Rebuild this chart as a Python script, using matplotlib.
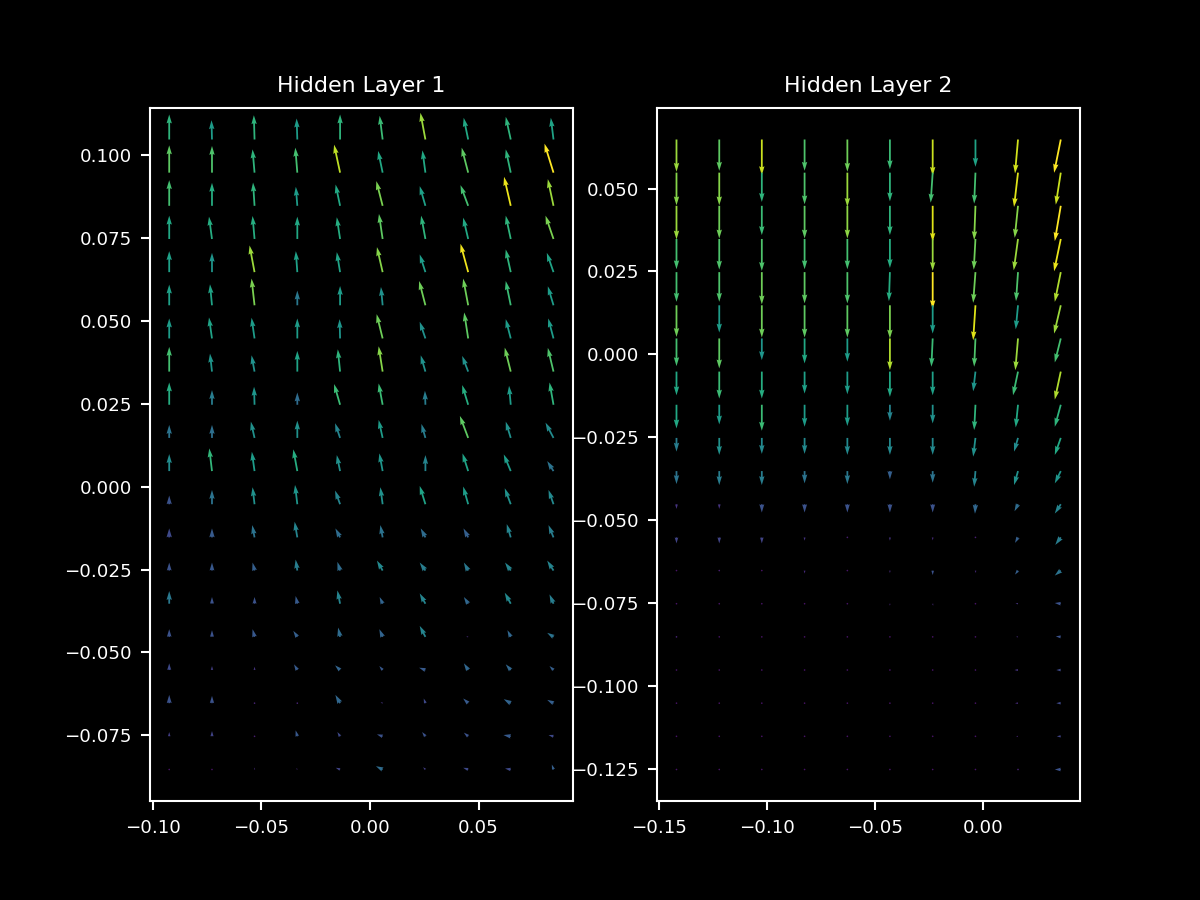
import numpy as np
import matplotlib
matplotlib.use("Agg")
import matplotlib.pyplot as plt

# ---- grid coordinates ----
x1 = [-0.0925, -0.0728, -0.0532, -0.0335, -0.0138, 0.0058, 0.0255, 0.0452, 0.0648, 0.0845]
y1 = [0.1047, 0.0947, 0.0847, 0.0747, 0.0647, 0.0547, 0.0447, 0.0347, 0.0247, 0.0147,
      0.0047, -0.0053, -0.0153, -0.0253, -0.0353, -0.0453, -0.0553, -0.0653, -0.0753, -0.0853]
x2 = [-0.1419, -0.1221, -0.1024, -0.0826, -0.0628, -0.0431, -0.0233, -0.0035, 0.0162, 0.0360]
y2 = [0.0648, 0.0548, 0.0448, 0.0348, 0.0248, 0.0148, 0.0048, -0.0052, -0.0152, -0.0252,
      -0.0352, -0.0452, -0.0552, -0.0652, -0.0752, -0.0852, -0.0952, -0.1052, -0.1152, -0.1252]

# ---- Hidden Layer 1 vector components (rows top -> bottom) ----
u1 = [
    [0, -0.5, -0.7, -0.7, 0, -3, -5, -4.5, -5, -2.7],
    [0, 0, -2, -2, -6, -4.5, -3, -6.5, -5, -9],
    [0, 0, -1.5, -1.5, -4.5, -6.3, -5.7, -7.7, -6.7, -5.7],
    [0, -3, -2, 0, -3.3, -3.7, -4.3, -5, -5, -8],
    [0, 0, -5, -1.5, -3.3, -5.7, -5.7, -7.7, -5, -6.7],
    [0, -2, -3, 0, 0, -1.7, -6.3, -5, -5, -5.7],
    [0, -3, -3, 0, -0.5, -6, -5.7, -4, -5, -5.3],
    [0, -2, -3, 0, -2.3, -4, -4.7, -6, -6, -5.7],
    [0, 0, -0.5, 0, -6, -4, -0.5, -6, -1.7, -4],
    [0, 0, -3.7, 0, -5, -4, -4, -8.3, -5, -8],
    [0, -2.7, -2.7, -4, -3.3, -3.3, 0, -5.7, -7, -6.3],
    [0, 0, -2, -2.3, -5, -2.3, -5.7, -5, -6, -5],
    [0, 0, -2.3, -2.7, -4.7, -2.3, -4.7, -4.7, -4, -5],
    [0, 0, -2, -1.7, -2.7, -5.7, -5.7, -4.3, -5.7, -6.3],
    [0, 0, 0, -1.7, -2.7, -3, -5.7, -4.3, -6, -4],
    [0, 0, -2, -4, -2, -3.3, -5.7, -2, -3.3, -6.3],
    [0, 0, 0, -3.3, -5, -3.3, -6.3, -4.3, -5, -4],
    [0, 0, -1, -1, -4.7, -2, -1.7, -5, -7, -6.3],
    [0, 0, -0.3, -1.7, -2.7, -5.7, -3.3, -4.3, -7.3, -5],
    [0, 0, 0, -1, -4.3, -6.7, -2.3, -5, -5.7, -1.7],
]
v1 = [
    [25, 19.3, 24.3, 21, 25, 23.7, 26.7, 21.7, 22.7, 21.7],
    [27.3, 26.7, 23.3, 25, 28, 21.7, 22.3, 25, 23.3, 29],
    [25.7, 23, 23.3, 19, 21.3, 24.7, 19.7, 20.7, 29, 26.7],
    [23.3, 22.3, 23, 22.3, 21.7, 25, 23.3, 21.3, 23.3, 23.3],
    [21, 19.3, 26.7, 21, 20, 25, 17.7, 28.3, 22.7, 19.3],
    [20.7, 21, 26.7, 14.7, 19.3, 18.3, 24.3, 26.7, 24.3, 19],
    [20, 21, 20.7, 20, 19.3, 24.3, 16.7, 26, 19.3, 20],
    [24.7, 18, 16.3, 20.7, 22.3, 25.3, 16.3, 15.7, 24, 23.7],
    [22.3, 14.7, 18, 12.3, 20.7, 21.3, 14, 19.7, 19, 22.3],
    [13, 13, 16.3, 17.3, 14.7, 18, 14, 22, 16.3, 15.3],
    [17, 22.7, 19.3, 21.7, 16, 17.7, 16, 17.7, 16.7, 10],
    [8.7, 14.3, 17, 19.3, 13.7, 17, 18.3, 17.7, 16, 14.3],
    [9, 9, 12.3, 15.7, 9, 12.3, 9, 9, 13.3, 12.3],
    [8, 8, 8, 11, 8.7, 10, 8, 8, 8, 10],
    [12.7, 6.7, 6.7, 7.7, 13.3, 6.7, 10.3, 6.7, 11, 9.3],
    [7.7, 6.7, 7.7, 6, 9.3, 7.7, 11, 0.3, 6.7, 4],
    [6.7, 4, 3.3, 5.7, 4.7, 4, 2.3, 6.7, 5.7, 4],
    [8.3, 7.3, 1, 1, 8.3, 1, 4.7, 4.7, 4, 3.3],
    [4.3, 5.3, 0.3, 6, 4.3, 2, 4.3, 3.7, 1.3, 1.3],
    [0.3, 0.3, 2, 1.5, 1.7, 3.3, 2.3, 1.7, 1, 5],
]
# colour value of each arrow (0..1 on viridis)
c1 = [
    [0.65, 0.55, 0.65, 0.55, 0.65, 0.68, 0.85, 0.60, 0.65, 0.58],
    [0.75, 0.72, 0.65, 0.70, 0.90, 0.60, 0.60, 0.75, 0.65, 1.00],
    [0.70, 0.62, 0.65, 0.55, 0.60, 0.80, 0.57, 0.70, 0.97, 0.85],
    [0.60, 0.62, 0.62, 0.60, 0.62, 0.75, 0.65, 0.60, 0.65, 0.80],
    [0.57, 0.52, 0.85, 0.57, 0.58, 0.82, 0.55, 0.98, 0.65, 0.58],
    [0.57, 0.58, 0.80, 0.40, 0.55, 0.50, 0.78, 0.78, 0.68, 0.55],
    [0.55, 0.58, 0.55, 0.55, 0.52, 0.78, 0.50, 0.75, 0.55, 0.55],
    [0.70, 0.52, 0.50, 0.58, 0.65, 0.82, 0.50, 0.50, 0.78, 0.72],
    [0.62, 0.42, 0.52, 0.35, 0.68, 0.68, 0.42, 0.62, 0.55, 0.65],
    [0.38, 0.36, 0.50, 0.50, 0.45, 0.55, 0.42, 0.75, 0.50, 0.48],
    [0.48, 0.66, 0.55, 0.62, 0.50, 0.52, 0.45, 0.58, 0.55, 0.38],
    [0.25, 0.38, 0.50, 0.52, 0.45, 0.50, 0.58, 0.55, 0.50, 0.47],
    [0.22, 0.28, 0.38, 0.45, 0.35, 0.38, 0.35, 0.30, 0.45, 0.42],
    [0.25, 0.27, 0.30, 0.42, 0.35, 0.47, 0.42, 0.40, 0.45, 0.45],
    [0.40, 0.25, 0.25, 0.28, 0.45, 0.32, 0.45, 0.33, 0.47, 0.42],
    [0.25, 0.25, 0.27, 0.30, 0.35, 0.32, 0.45, 0.12, 0.33, 0.38],
    [0.22, 0.18, 0.15, 0.28, 0.32, 0.27, 0.28, 0.33, 0.33, 0.30],
    [0.25, 0.25, 0.10, 0.10, 0.33, 0.15, 0.22, 0.28, 0.32, 0.30],
    [0.18, 0.20, 0.08, 0.27, 0.22, 0.25, 0.25, 0.25, 0.28, 0.22],
    [0.05, 0.05, 0.12, 0.12, 0.20, 0.35, 0.18, 0.22, 0.22, 0.30],
]

# ---- Hidden Layer 2 vector components (rows top -> bottom) ----
u2 = [
    [0, 0, 0, 0, 0, 0, 0, 0, -3, -6.7],
    [0, 0, 0, 0, 0, 0, -2, -1.3, -4, -5],
    [0, 0, 0, 0, 0, 0, 0, -1.3, -3.3, -6],
    [0, 0, 0, 0, 0, 0, 0, -1.7, -4.3, -6.7],
    [0, 0, 0, 0, 0, -1, 0, -2.3, -2, -6],
    [0, 0, 0, 0, 0, 0, 0, -2.3, -2.3, -6.7],
    [0, 0, 0, 0, 0, 0, -1.3, -1.3, -2.7, -6],
    [0, 0, 0, 0, 0, 0, 0, -2.3, -5, -6],
    [0, 0, 0, 0, 0, 0, 0, -1.3, -2.3, -6],
    [0, 0, 0, 0, 0, 0, 0, -2.3, -4, -6],
    [0, 0, 0, 0, 0, 0, 0, -1.3, -4, -6],
    [0, 0, 0, 0, 0, 0, 0, -0.5, -3.5, -6],
    [0, 0, 0, 0, 0, 0, 0, 0, -3, -5.5],
    [0, 0, 0, 0, 0, 0, 0, 0.5, -3, -6],
    [0, 0, 0, 0, 0, 0, 0.5, 0, -2.5, -6],
    [0, 0, 0, 0, 0, 0, 0, 0, -2, -5],
    [0, 0, 0, 0, 0, 0, 0, -0.5, -3.5, -4.5],
    [0, 0, 0, 0, 0, 0, 0, 0, -3, -4.5],
    [0, 0, 0, 0, 0, 0, 0, 0, -2, -4],
    [0, 0, 0, 0, 0, 0, 0, 0, -1.5, -6],
]
v2 = [
    [-32.3, -31.3, -35.7, -31.3, -32.3, -29.7, -36.3, -27.3, -34, -33.3],
    [-32.7, -32.7, -29.3, -31.7, -34.3, -28.7, -30, -31, -34.3, -32],
    [-33.7, -32.7, -29.3, -32.7, -32.7, -29.3, -36, -34.3, -32, -35.3],
    [-30.3, -30.7, -32, -30.3, -30.3, -29, -32, -30.7, -31.3, -32.3],
    [-29.7, -29.7, -32.3, -31.3, -31.3, -29, -37, -30.7, -29, -29.7],
    [-31.7, -27.3, -32.3, -32.3, -32.3, -33.3, -28.3, -35, -24, -28.3],
    [-27.7, -30, -21.7, -25, -23.3, -31.7, -28.3, -28.3, -31.7, -24],
    [-23.7, -27, -27, -22, -22.7, -25.3, -23.7, -19.7, -23.7, -28],
    [-23.7, -19.7, -26, -22, -21.3, -16, -18.7, -25.3, -22.7, -22],
    [-13.7, -17, -16, -16, -17, -17, -17, -18.7, -13.7, -17],
    [-13, -14, -14, -12.3, -13, -8.3, -11.7, -15.7, -14, -12.3],
    [-4.7, -4.7, -8.3, -8.3, -8.3, -8.3, -8.3, -9.5, -7, -9.3],
    [-6, -6, -6, -3.3, -0.5, -3.3, -3, -0.5, -5.5, -7.5],
    [-0.5, -1, -0.5, -3, 0.5, -2.5, -4.5, -2.5, -4, -5],
    [-0.3, -0.3, -0.3, -0.3, -0.3, -2, -2, -0.3, 0.3, 0.7],
    [-1.5, -0.3, -0.5, -0.3, -0.3, -0.3, -0.3, -0.3, 0, 0.5],
    [-0.3, -0.3, -0.3, -0.3, -0.3, -0.3, -0.3, 0, 0, 0],
    [-0.3, -0.3, -0.3, -0.3, -0.3, -0.3, -0.3, -0.3, 0, 0],
    [-0.3, -0.3, -0.3, -0.3, -0.3, -0.3, -0.3, -0.3, 0, 0],
    [-0.3, -0.3, -0.3, -0.3, -0.3, -0.3, -0.3, -0.3, 0, 0],
]
c2 = [
    [0.85, 0.75, 0.92, 0.72, 0.78, 0.68, 0.92, 0.58, 0.93, 1.00],
    [0.82, 0.82, 0.65, 0.72, 0.85, 0.65, 0.70, 0.70, 0.95, 0.92],
    [0.85, 0.78, 0.68, 0.75, 0.83, 0.65, 0.95, 0.82, 0.82, 1.00],
    [0.70, 0.72, 0.72, 0.70, 0.70, 0.62, 0.85, 0.78, 0.85, 0.97],
    [0.70, 0.72, 0.78, 0.75, 0.72, 0.62, 1.00, 0.78, 0.72, 0.88],
    [0.78, 0.55, 0.78, 0.75, 0.75, 0.80, 0.55, 0.95, 0.55, 0.85],
    [0.70, 0.75, 0.52, 0.60, 0.55, 0.88, 0.68, 0.72, 0.85, 0.70],
    [0.60, 0.68, 0.62, 0.57, 0.55, 0.60, 0.57, 0.52, 0.68, 0.88],
    [0.60, 0.55, 0.68, 0.55, 0.55, 0.45, 0.50, 0.65, 0.60, 0.65],
    [0.42, 0.50, 0.47, 0.47, 0.47, 0.47, 0.47, 0.50, 0.48, 0.60],
    [0.38, 0.42, 0.42, 0.38, 0.40, 0.30, 0.38, 0.45, 0.50, 0.52],
    [0.15, 0.15, 0.25, 0.25, 0.25, 0.25, 0.25, 0.33, 0.35, 0.45],
    [0.20, 0.20, 0.20, 0.15, 0.08, 0.15, 0.12, 0.08, 0.30, 0.42],
    [0.05, 0.08, 0.05, 0.12, 0.05, 0.12, 0.25, 0.12, 0.30, 0.38],
    [0.05, 0.05, 0.05, 0.05, 0.05, 0.10, 0.12, 0.05, 0.15, 0.25],
    [0.10, 0.05, 0.05, 0.05, 0.05, 0.05, 0.05, 0.05, 0.12, 0.25],
    [0.05, 0.05, 0.05, 0.05, 0.05, 0.05, 0.05, 0.05, 0.15, 0.22],
    [0.05, 0.05, 0.05, 0.05, 0.05, 0.05, 0.05, 0.05, 0.12, 0.22],
    [0.05, 0.05, 0.05, 0.05, 0.05, 0.05, 0.05, 0.05, 0.10, 0.20],
    [0.05, 0.05, 0.05, 0.05, 0.05, 0.05, 0.05, 0.05, 0.10, 0.25],
]

titles = ["Hidden Layer 1", "Hidden Layer 2"]

plt.style.use("dark_background")
DPI = 187.5
fig, axes = plt.subplots(1, 2, figsize=(6.4, 4.8), dpi=DPI)

panels = [(x1, y1, u1, v1, c1), (x2, y2, u2, v2, c2)]
for ax, (xs, ys, us, vs, cs), title in zip(axes, panels, titles):
    X, Y = np.meshgrid(np.array(xs), np.array(ys))
    U = np.array(us, dtype=float)
    V = np.array(vs, dtype=float)
    C = np.array(cs, dtype=float)
    ax.quiver(X, Y, U, V, C, cmap="viridis", clim=(0, 1),
              scale=1.0, scale_units="dots")
    ax.set_title(title, fontsize=8.5)
    ax.tick_params(labelsize=7)

fig.savefig("out.png", dpi=DPI)
